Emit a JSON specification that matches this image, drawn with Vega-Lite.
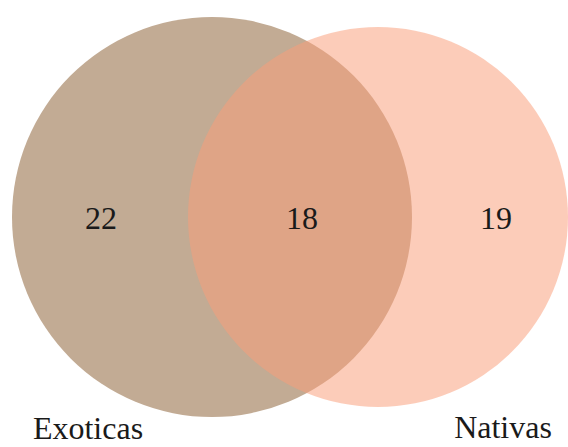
{
  "$schema": "https://vega.github.io/schema/vega-lite/v6.json",
  "width": 568,
  "height": 447,
  "padding": 0,
  "autosize": {"type": "none"},
  "background": "white",
  "config": {"view": {"stroke": null}},
  "datasets": {
    "sets": [
      {"set": "Exoticas", "total": 40, "cx": 212, "cy": 217},
      {"set": "Nativas", "total": 37, "cx": 378, "cy": 217}
    ],
    "counts": [
      {"region": "Exoticas only", "count": 22, "x": 101, "y": 229},
      {"region": "Both", "count": 18, "x": 302, "y": 229},
      {"region": "Nativas only", "count": 19, "x": 496, "y": 229}
    ],
    "labels": [
      {"label": "Exoticas", "x": 88, "y": 439},
      {"label": "Nativas", "x": 503, "y": 438}
    ]
  },
  "layer": [
    {
      "data": {"name": "sets"},
      "mark": {"type": "point", "filled": true, "shape": "circle", "strokeWidth": 0},
      "encoding": {
        "x": {"field": "cx", "type": "quantitative", "scale": {"domain": [0, 568]}, "axis": null},
        "y": {"field": "cy", "type": "quantitative", "scale": {"domain": [0, 447], "reverse": true}, "axis": null},
        "size": {"field": "total", "type": "quantitative", "scale": {"domain": [37, 40], "range": [144400, 160000]}, "legend": null},
        "color": {"field": "set", "type": "nominal", "scale": {"domain": ["Exoticas", "Nativas"], "range": ["#c2ab94", "#f99e79"]}, "legend": null},
        "opacity": {"field": "set", "type": "nominal", "scale": {"domain": ["Exoticas", "Nativas"], "range": [1, 0.525]}, "legend": null}
      }
    },
    {
      "data": {"name": "counts"},
      "mark": {"type": "text", "font": "Liberation Serif, Times New Roman, serif", "fontSize": 32, "color": "#1a1a1a", "baseline": "alphabetic", "align": "center"},
      "encoding": {
        "x": {"field": "x", "type": "quantitative", "scale": {"domain": [0, 568]}, "axis": null},
        "y": {"field": "y", "type": "quantitative", "scale": {"domain": [0, 447], "reverse": true}, "axis": null},
        "text": {"field": "count", "type": "quantitative"}
      }
    },
    {
      "data": {"name": "labels"},
      "mark": {"type": "text", "font": "Liberation Serif, Times New Roman, serif", "fontSize": 32, "color": "#1a1a1a", "baseline": "alphabetic", "align": "center"},
      "encoding": {
        "x": {"field": "x", "type": "quantitative", "scale": {"domain": [0, 568]}, "axis": null},
        "y": {"field": "y", "type": "quantitative", "scale": {"domain": [0, 447], "reverse": true}, "axis": null},
        "text": {"field": "label", "type": "nominal"}
      }
    }
  ]
}
